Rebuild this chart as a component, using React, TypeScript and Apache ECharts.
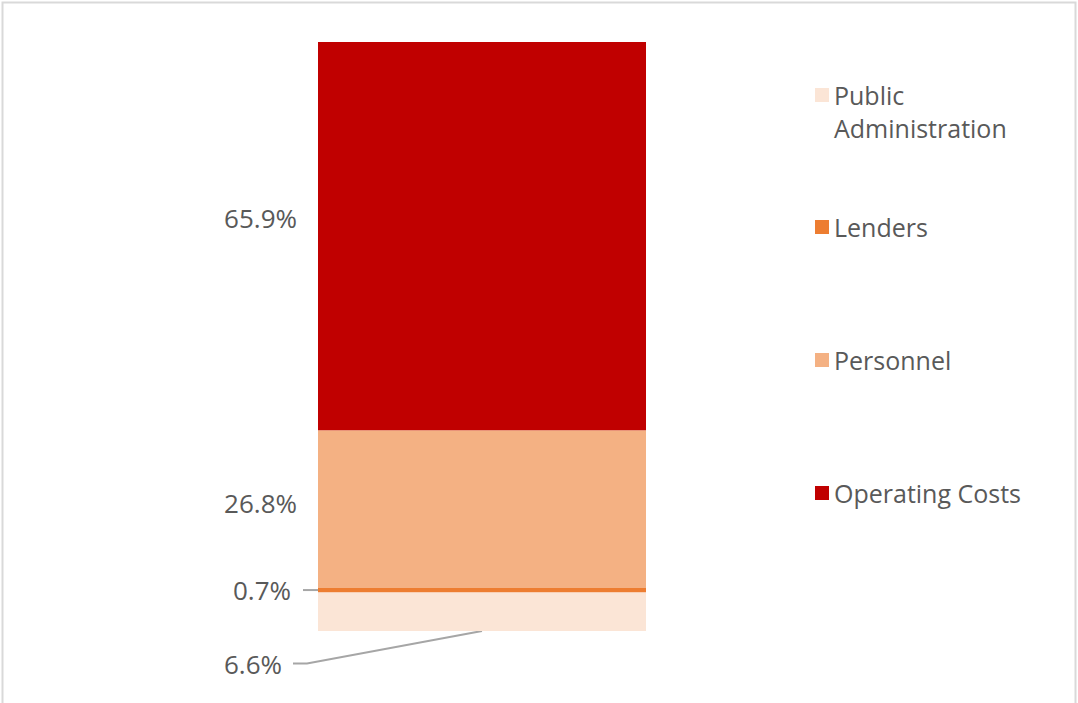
import React, { useEffect, useRef } from "react";
import * as echarts from "echarts";

const categories = ["Costs"];
const seriesNames = ["Public Administration", "Lenders", "Personnel", "Operating Costs"];
const seriesValues = [6.6, 0.7, 26.8, 65.9];
const seriesColors = ["#fbe5d6", "#ed7d31", "#f4b183", "#c00000"];
const legendLabels = [" \nPublic\nAdministration", "Lenders", "Personnel", "Operating Costs"];

const FONT = "'Open Sans', sans-serif";
const TEXT_COLOR = "#595959";

export default function App() {
  const ref = useRef<HTMLDivElement>(null);
  useEffect(() => {
    const chart = echarts.init(ref.current!, null, { renderer: "svg" });
    const labelCfg = [
      { distance: 36, offset: [0, 52] },
      { distance: 27, offset: [0, 0] },
      { distance: 21, offset: [0, -6] },
      { distance: 21, offset: [0, -18] },
    ];
    const legendTops = [45.5, 210.5, 343.5, 476.5];
    chart.setOption({
      animation: false,
      backgroundColor: "#ffffff",
      grid: { left: 318, right: 432, top: 42, bottom: 72 },
      xAxis: { type: "category", data: categories, show: false },
      yAxis: { type: "value", min: 0, max: 100, show: false },
      legend: seriesNames.map((name, i) => ({
        data: [{ name, icon: "rect" }],
        left: 815,
        top: legendTops[i],
        orient: "vertical",
        padding: 0,
        itemWidth: 14,
        itemHeight: 14,
        selectedMode: false,
        formatter: (n: string) => legendLabels[seriesNames.indexOf(n)],
        textStyle: { fontFamily: FONT, fontSize: 25, color: TEXT_COLOR, lineHeight: 33 },
      })),
      series: seriesNames.map((name, i) => ({
        name,
        type: "bar",
        stack: "total",
        barWidth: "100%",
        data: [seriesValues[i]],
        itemStyle: { color: seriesColors[i] },
        label: {
          show: true,
          position: "left",
          distance: labelCfg[i].distance,
          offset: labelCfg[i].offset,
          formatter: (p: any) => Number(p.value).toFixed(1) + "%",
          fontFamily: FONT,
          fontSize: 26,
          color: TEXT_COLOR,
        },
      })),
    });

    const yPix = (v: number) => chart.convertToPixel({ gridIndex: 0 }, [0, v])[1];
    const cx = chart.convertToPixel({ gridIndex: 0 }, [0, 0])[0];
    const band = (chart as any).getModel().getComponent("xAxis", 0).axis.getBandWidth();
    const barLeft = cx - band / 2;
    const y0 = yPix(0);
    const y1 = yPix(seriesValues[0]);
    const y2 = yPix(seriesValues[0] + seriesValues[1]);
    const labelY0 = (y0 + y1) / 2 + labelCfg[0].offset[1];
    const lineX0 = barLeft - labelCfg[0].distance + 11;
    const lenY = (y1 + y2) / 2;

    chart.setOption({
      graphic: [
        {
          type: "rect",
          shape: { x: 2.5, y: 2.5, width: 1073, height: 720 },
          style: { fill: "none", stroke: "#d9d9d9", lineWidth: 2 },
          silent: true,
        },
        {
          type: "polyline",
          shape: { points: [[lineX0, labelY0], [lineX0 + 14, labelY0], [cx, y0]] },
          style: { fill: "none", stroke: "#a6a6a6", lineWidth: 2 },
          silent: true,
        },
        {
          type: "line",
          shape: { x1: barLeft - 15, y1: lenY, x2: barLeft, y2: lenY },
          style: { stroke: "#a6a6a6", lineWidth: 2 },
          silent: true,
        },
      ],
    });

    return () => chart.dispose();
  }, []);
  return (
    <div
      ref={ref}
      style={{ position: "absolute", left: 0, top: 0, width: 1078, height: 703 }}
    />
  );
}
